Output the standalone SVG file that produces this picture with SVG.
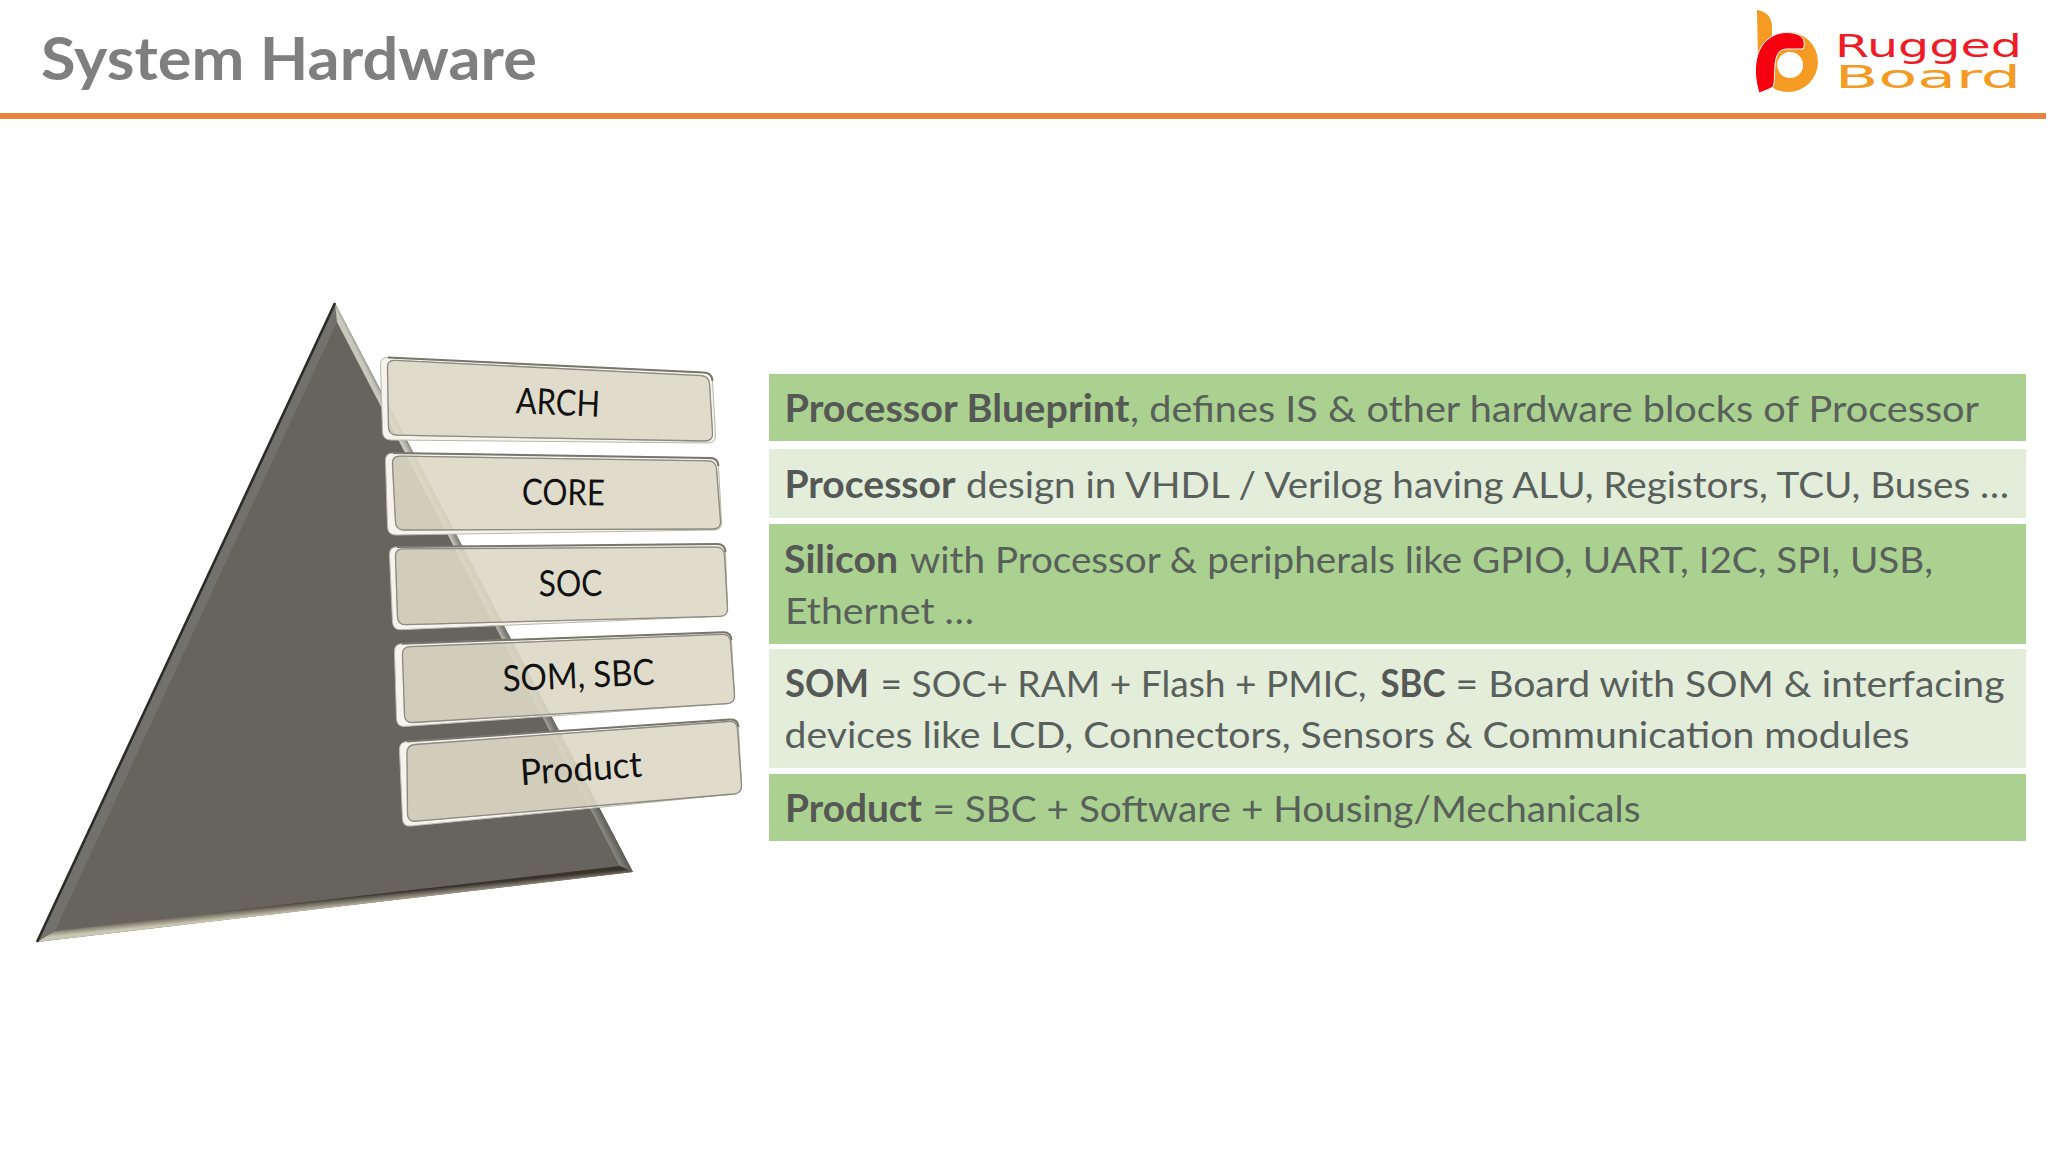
<svg xmlns="http://www.w3.org/2000/svg" width="2048" height="1152" viewBox="0 0 2048 1152">
<style>
.body{font-family:Lato,"Liberation Sans",sans-serif;font-size:37.5px;fill:#595f5a}
.b{font-weight:700;fill:#555855}
.lab{font-family:Lato,"Liberation Sans",sans-serif;font-size:36px;fill:#111;text-anchor:middle}
.dark{fill:#aad18f}
.light{fill:#e3edda}
.co{fill:#f5f3ec;fill-rule:evenodd;stroke:#b9b8ac;stroke-width:1}
.cf{fill:#ddd8c5;fill-opacity:.9;stroke:#8b8b80;stroke-width:1.3}
.ce{fill:none;stroke:#77766c;stroke-width:2}
</style>
<defs>
<linearGradient id="gr" gradientUnits="userSpaceOnUse" x1="478" y1="594" x2="492" y2="587">
<stop offset="0" stop-color="#c9c8bc"/><stop offset=".4" stop-color="#83827a"/><stop offset="1" stop-color="#4f4e49"/>
</linearGradient>
<linearGradient id="gb" gradientUnits="userSpaceOnUse" x1="337" y1="898" x2="338" y2="908">
<stop offset="0" stop-color="#38342c"/><stop offset=".35" stop-color="#6f6b5e"/><stop offset="1" stop-color="#c8c7b2"/>
</linearGradient>
</defs>
<rect width="2048" height="1152" fill="#fff"/>
<g id="header">
<text x="41" y="80" font-family="Lato,'Liberation Sans',sans-serif" font-weight="700" font-size="60" fill="#7f7f7f" textLength="496" lengthAdjust="spacingAndGlyphs">System Hardware</text>
<rect x="0" y="113" width="2046" height="6" fill="#e8833e"/>
</g>
<g id="logo">
<path fill="#f59a23" fill-rule="evenodd" d="M1757 10Q1771 12 1772 26L1772 36L1758 60ZM1788 32A30 30 0 1 1 1787.9 92A30 30 0 1 1 1788 32ZM1790 52A13 13 0 1 0 1790.1 78A13 13 0 1 0 1790 52Z"/>
<path fill="#f5000f" stroke="#fff" stroke-width="1" d="M1759 93C1752 70 1756 50 1766 41C1776 31 1790 31 1799 35C1805 38 1805 45 1803 49L1787 49C1778 49 1776 56 1775 65C1774 75 1775 82 1773 87Q1768 90 1759 93Z"/>
<text x="1835" y="57" font-family="'DejaVu Sans',sans-serif" font-size="32" fill="#ee1c25" textLength="187" lengthAdjust="spacingAndGlyphs">Rugged</text>
<text x="1835" y="88" font-family="'DejaVu Sans',sans-serif" font-size="32" fill="#f59a23" textLength="186" lengthAdjust="spacingAndGlyphs">Board</text>
</g>
<g id="pyramid">
<polygon points="335,303 37,942 633,872" fill="#67635d"/>
<polygon points="335,303 37,942 55,931 337,322" fill="#73716c"/>
<polygon points="335,303 337,322 620,866 633,872" fill="url(#gr)"/>
<polygon points="37,942 55,931 620,866 633,872" fill="url(#gb)"/>
<path d="M335 303L37 942" fill="none" stroke="#2b2b29" stroke-width="2.6"/>
</g>
<g id="card-arch">
<path class="co" d="M388 357.4L704 372.6Q712 373 712.5 381L715.5 435Q716 443 708 443L391 440Q383 440 382.5 432L380.5 365Q380 357 388 357.4ZM395 360.4L701 375.6Q709 376 709.5 384L712.5 433Q713 441 705 441L397 435.2Q389 435 388.5 427L387.5 368Q387 360 395 360.4Z"/>
<path class="ce" d="M388 357.4L704 372.6Q712 373 712.5 381"/>
<path class="cf" d="M395 360.4L701 375.6Q709 376 709.5 384L712.5 433Q713 441 705 441L397 435.2Q389 435 388.5 427L387.5 368Q387 360 395 360.4Z"/>
<text class="lab" transform="translate(558,402) rotate(2.5)" y="13" textLength="84" lengthAdjust="spacingAndGlyphs">ARCH</text>
</g>
<g id="card-core">
<path class="co" d="M393 453.1L710 457.9Q718 458 718.5 466L721.5 522Q722 530 714 530L396 535Q388 535 387.5 527L385.5 461Q385 453 393 453.1ZM400 456.1L708 460.9Q716 461 716.5 469L720.5 521Q721 529 713 529L404 530Q396 530 395.5 522L392.5 464Q392 456 400 456.1Z"/>
<path class="ce" d="M393 453.1L710 457.9Q718 458 718.5 466"/>
<path class="cf" d="M400 456.1L708 460.9Q716 461 716.5 469L720.5 521Q721 529 713 529L404 530Q396 530 395.5 522L392.5 464Q392 456 400 456.1Z"/>
<text class="lab" transform="translate(563.5,492) rotate(.8)" y="13" textLength="83" lengthAdjust="spacingAndGlyphs">CORE</text>
</g>
<g id="card-soc">
<path class="co" d="M397 546.9L717 544.1Q725 544 725.5 552L727.5 608Q728 616 720 616.3L401 629.7Q393 630 392.5 622L389.5 555Q389 547 397 546.9ZM403 548.9L716 547.1Q724 547 724.5 555L727.5 608Q728 616 720 616.3L406 624.7Q398 625 397.5 617L395.5 557Q395 549 403 548.9Z"/>
<path class="ce" d="M397 546.9L717 544.1Q725 544 725.5 552"/>
<path class="cf" d="M403 548.9L716 547.1Q724 547 724.5 555L727.5 608Q728 616 720 616.3L406 624.7Q398 625 397.5 617L395.5 557Q395 549 403 548.9Z"/>
<text class="lab" transform="translate(570.5,583) rotate(-.6)" y="13" textLength="64" lengthAdjust="spacingAndGlyphs">SOC</text>
</g>
<g id="card-som-sbc">
<path class="co" d="M402 643.7L723 632.3Q731 632 731.5 640L734.5 695Q735 703 727 703.6L405 726.4Q397 727 396.5 719L394.5 652Q394 644 402 643.7ZM410 646.7L722 634.3Q730 634 730.5 642L734.5 695Q735 703 727 703.6L413 722.5Q405 723 404.5 715L402.5 655Q402 647 410 646.7Z"/>
<path class="ce" d="M402 643.7L723 632.3Q731 632 731.5 640"/>
<path class="cf" d="M410 646.7L722 634.3Q730 634 730.5 642L734.5 695Q735 703 727 703.6L413 722.5Q405 723 404.5 715L402.5 655Q402 647 410 646.7Z"/>
<text class="lab" transform="translate(578.5,675) rotate(-2.6)" y="13" textLength="152" lengthAdjust="spacingAndGlyphs">SOM, SBC</text>
</g>
<g id="card-product">
<path class="co" d="M407 741.5L730 719.5Q738 719 738.5 727L741.5 785Q742 793 734 794L411 826Q403 827 402.5 819L399.5 750Q399 742 407 741.5ZM415 744.5L729 721.5Q737 721 737.5 729L741.5 785Q742 793 734 794L416 821.2Q408 822 407.5 814L407 753Q407 745 415 744.5Z"/>
<path class="ce" d="M407 741.5L730 719.5Q738 719 738.5 727"/>
<path class="cf" d="M415 744.5L729 721.5Q737 721 737.5 729L741.5 785Q742 793 734 794L416 821.2Q408 822 407.5 814L407 753Q407 745 415 744.5Z"/>
<text class="lab" transform="translate(581,768) rotate(-4)" y="13" textLength="122" lengthAdjust="spacingAndGlyphs">Product</text>
</g>
<g id="row-blueprint">
<rect class="dark" x="769" y="374" width="1257" height="67"/>
<text class="body b" x="784.5" y="421.5" textLength="345" lengthAdjust="spacingAndGlyphs">Processor Blueprint</text>
<text class="body" x="1130" y="421.5" textLength="849" lengthAdjust="spacingAndGlyphs">, defines IS &amp; other hardware blocks of Processor</text>
</g>
<g id="row-processor">
<rect class="light" x="769" y="449" width="1257" height="69"/>
<text class="body b" x="784.5" y="497.5" textLength="171" lengthAdjust="spacingAndGlyphs">Processor</text>
<text class="body" x="966" y="497.5" textLength="1043" lengthAdjust="spacingAndGlyphs">design in VHDL / Verilog having ALU, Registors, TCU, Buses …</text>
</g>
<g id="row-silicon">
<rect class="dark" x="769" y="524" width="1257" height="120"/>
<text class="body b" x="784" y="572.5" textLength="114" lengthAdjust="spacingAndGlyphs">Silicon</text>
<text class="body" x="910" y="572.5" textLength="1023" lengthAdjust="spacingAndGlyphs">with Processor &amp; peripherals like GPIO, UART, I2C, SPI, USB,</text>
<text class="body" x="785" y="623.5" textLength="189" lengthAdjust="spacingAndGlyphs">Ethernet …</text>
</g>
<g id="row-som">
<rect class="light" x="769" y="649" width="1257" height="119"/>
<text class="body b" x="785" y="696.5" textLength="84" lengthAdjust="spacingAndGlyphs">SOM</text>
<text class="body" x="880.5" y="696.5" textLength="486" lengthAdjust="spacingAndGlyphs">= SOC+ RAM + Flash + PMIC,</text>
<text class="body b" x="1380.5" y="696.5" textLength="65" lengthAdjust="spacingAndGlyphs">SBC</text>
<text class="body" x="1455.5" y="696.5" textLength="549" lengthAdjust="spacingAndGlyphs">= Board with SOM &amp; interfacing</text>
<text class="body" x="784.5" y="747.5" textLength="1125" lengthAdjust="spacingAndGlyphs">devices like LCD, Connectors, Sensors &amp; Communication modules</text>
</g>
<g id="row-product">
<rect class="dark" x="769" y="774" width="1257" height="67"/>
<text class="body b" x="785" y="821.5" textLength="137" lengthAdjust="spacingAndGlyphs">Product</text>
<text class="body" x="932.5" y="821.5" textLength="708" lengthAdjust="spacingAndGlyphs">= SBC + Software + Housing/Mechanicals</text>
</g>
</svg>
